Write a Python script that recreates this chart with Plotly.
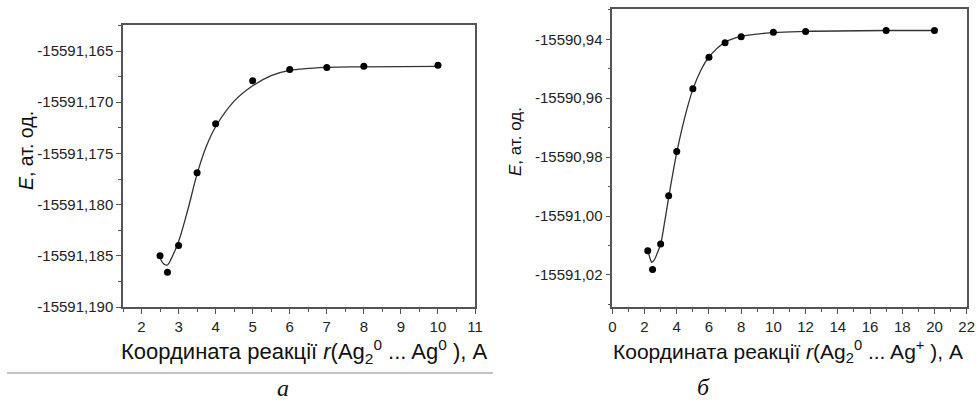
import plotly.graph_objects as go

# ---- data, panel a ----
a_r = [2.5, 2.7, 3.0, 3.5, 4.0, 5.0, 6.0, 7.0, 8.0, 10.0]
a_E = [-15591.1850, -15591.1866, -15591.1840, -15591.1769, -15591.1721,
       -15591.1679, -15591.1668, -15591.1666, -15591.1665, -15591.1664]
# fitted curve
a_fit_r = [2.5, 2.6, 2.7, 2.8, 3.0, 3.25, 3.5, 3.75, 4.0, 4.5, 5.0, 5.5, 6.0, 7.0, 8.0, 10.0]
a_fit_E = [-15591.1852, -15591.1858, -15591.1859, -15591.1853, -15591.1836, -15591.1805,
           -15591.1770, -15591.1743, -15591.1724, -15591.1699, -15591.1684, -15591.1674,
           -15591.1669, -15591.1666, -15591.16655, -15591.1665]
a_yticks = [-15591.190, -15591.185, -15591.180, -15591.175, -15591.170, -15591.165]
a_ytext = ["-15591,190", "-15591,185", "-15591,180", "-15591,175", "-15591,170", "-15591,165"]

# ---- data, panel б ----
b_r = [2.2, 2.5, 3.0, 3.5, 4.0, 5.0, 6.0, 7.0, 8.0, 10.0, 12.0, 17.0, 20.0]
b_E = [-15591.0118, -15591.0182, -15591.0095, -15590.9931, -15590.9781, -15590.9568,
       -15590.9461, -15590.9412, -15590.9391, -15590.9376, -15590.9373, -15590.9370,
       -15590.9370]
b_fit_r = [2.2, 2.35, 2.45, 2.6, 2.8, 3.0, 3.25, 3.5, 4.0, 4.5, 5.0, 5.5, 6.0, 7.0, 8.0,
           10.0, 12.0, 17.0, 20.0]
b_fit_E = [-15591.0116, -15591.0145, -15591.0157, -15591.0150, -15591.0125, -15591.0095,
           -15591.0020, -15590.9937, -15590.9785, -15590.9665, -15590.9570, -15590.9505,
           -15590.9460, -15590.9410, -15590.9390, -15590.9377, -15590.9373, -15590.9370,
           -15590.9370]
b_yticks = [-15591.02, -15591.00, -15590.98, -15590.96, -15590.94]
b_ytext = ["-15591,02", "-15591,00", "-15590,98", "-15590,96", "-15590,94"]

x_title_a = "Координата реакції <i>r</i>(Ag<sub>2</sub><sup>0</sup> ... Ag<sup>0</sup> ), А"
x_title_b = "Координата реакції <i>r</i>(Ag<sub>2</sub><sup>0</sup> ... Ag<sup>+</sup> ), А"
y_title = "<i>E</i>, ат. од."

W, H = 976, 400
def px(x): return x / W
def py(y): return 1 - y / H

fig = go.Figure()
line_col = "#333333"
fig.add_trace(go.Scatter(x=a_fit_r, y=a_fit_E, mode="lines", line=dict(color=line_col, width=1.3, shape="spline"),
                         xaxis="x", yaxis="y", showlegend=False, hoverinfo="skip"))
fig.add_trace(go.Scatter(x=a_r, y=a_E, mode="markers", marker=dict(color="black", size=7),
                         xaxis="x", yaxis="y", showlegend=False))
fig.add_trace(go.Scatter(x=b_fit_r, y=b_fit_E, mode="lines", line=dict(color=line_col, width=1.3, shape="spline"),
                         xaxis="x2", yaxis="y2", showlegend=False, hoverinfo="skip"))
fig.add_trace(go.Scatter(x=b_r, y=b_E, mode="markers", marker=dict(color="black", size=7),
                         xaxis="x2", yaxis="y2", showlegend=False))

axcol = "#555555"
tickfont = dict(family="Liberation Sans, Arial, sans-serif", size=15, color="#222222")
common = dict(showline=True, linecolor=axcol, linewidth=1.5, mirror=True, ticks="outside",
              ticklen=5, tickwidth=1.2, tickcolor=axcol, showgrid=False, zeroline=False,
              tickfont=tickfont, automargin=False)

fig.update_layout(
    template="none",
    width=W, height=H, margin=dict(l=0, r=0, t=0, b=0, pad=0),
    paper_bgcolor="white", plot_bgcolor="white",
    xaxis=dict(domain=[px(123), px(475)], anchor="y", range=[1.5, 11], dtick=1, tick0=0,
               minor=dict(ticks="outside", ticklen=3, dtick=0.5, tick0=0, tickcolor=axcol), **common),
    yaxis=dict(domain=[py(307), py(25)], anchor="x", range=[-15591.190, -15591.16246],
               tickmode="array", tickvals=a_yticks, ticktext=a_ytext,
               minor=dict(ticks="outside", ticklen=3, dtick=0.0025, tick0=-15591.190, tickcolor=axcol), **common),
    xaxis2=dict(domain=[px(612.3), px(966.7)], anchor="y2", range=[0, 22], dtick=2, tick0=0,
                minor=dict(ticks="outside", ticklen=3, dtick=1, tick0=0, tickcolor=axcol), **common),
    yaxis2=dict(domain=[py(307.3), py(9.3)], anchor="x2", range=[-15591.031, -15590.9298],
                tickmode="array", tickvals=b_yticks, ticktext=b_ytext,
                minor=dict(ticks="outside", ticklen=3, dtick=0.01, tick0=-15591.02, tickcolor=axcol), **common),
)

def tf(size):
    return dict(family="Liberation Sans, Arial, sans-serif", size=size, color="#111111")
serif = dict(family="Liberation Serif, Times New Roman, serif", size=24, color="#111111")
ann = [
    dict(text=x_title_a, x=px(304), y=py(351), font=tf(22)),
    dict(text=x_title_b, x=px(788), y=py(351), font=tf(21)),
    dict(text=y_title, x=px(26), y=py(151), font=tf(19.5), textangle=-90),
    dict(text=y_title, x=px(515), y=py(142), font=tf(17), textangle=-90),
    dict(text="<i>a</i>", x=px(282.5), y=py(388), font=serif),
    dict(text="<i>б</i>", x=px(703), y=py(387), font=serif),
]
for a in ann:
    a.update(xref="paper", yref="paper", showarrow=False, xanchor="center", yanchor="middle")
fig.update_layout(annotations=ann)

fig.add_shape(type="line", xref="paper", yref="paper", x0=px(7), x1=px(493), y0=py(373), y1=py(373),
              line=dict(color="#888888", width=1.2))

fig.write_html("out.html", post_script="document.body.style.margin='0px';",
               config={"displayModeBar": False})
